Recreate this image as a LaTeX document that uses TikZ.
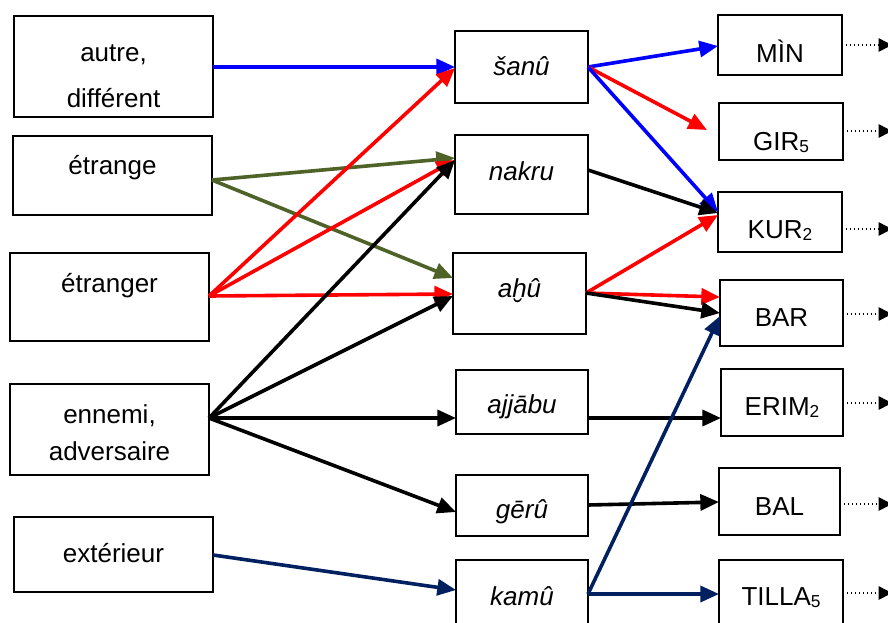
\documentclass[tikz,border=0pt]{standalone}
\usepackage{fontspec}
\setmainfont{Liberation Sans}
\usetikzlibrary{arrows.meta,fit}
\definecolor{olivec}{RGB}{79,98,40}
\definecolor{navyc}{RGB}{0,32,96}
\definecolor{bluec}{RGB}{0,0,255}
\definecolor{redc}{RGB}{255,0,0}
\newcommand{\mysub}[1]{\raisebox{-1.5pt}{\fontsize{13pt}{14pt}\selectfont #1}}
\begin{document}
\begin{tikzpicture}[x=0.75pt,y=-0.75pt,
 box/.style={draw=black, line width=1.4pt, inner sep=0pt, outer sep=0pt, rectangle},
 lbl/.style={font=\fontsize{19.5pt}{23pt}\selectfont, anchor=base, inner sep=0pt},
 itlbl/.style={lbl, font=\fontsize{19.5pt}{23pt}\selectfont\itshape},
 conn/.style={line width=2.7pt, -{Triangle[length=14pt,width=12pt]}},
 dotarrow/.style={line width=1.1pt, dash pattern=on 1.1pt off 1.9pt, -{Triangle[length=10pt,width=10pt]}}
]
\useasboundingbox (0,0) rectangle (888,622);
\clip (0,0) rectangle (888,622);
\fill[white] (0,0) rectangle (888,622);

% left boxes
\node[box, fit={(14,16) (213,117)}] (autre) {};
\node[box, fit={(13,136) (212,215)}] (etrange) {};
\node[box, fit={(10,253) (209,341)}] (etranger) {};
\node[box, fit={(10,384) (209,475)}] (ennemi) {};
\node[box, fit={(14,517) (213,592)}] (exterieur) {};

\node[lbl] (t-autre1) at (autre.center |- 0,61) {autre,};
\node[lbl] (t-autre2) at (autre.center |- 0,107) {différent};
\node[lbl] (t-etrange) at (etrange.center |- 0,174) {étrange};
\node[lbl] (t-etranger) at (etranger.center |- 0,292) {étranger};
\node[lbl] (t-ennemi1) at (ennemi.center |- 0,423) {ennemi,};
\node[lbl] (t-ennemi2) at (ennemi.center |- 0,460) {adversaire};
\node[lbl] (t-exterieur) at (exterieur.center |- 0,562) {extérieur};

% middle boxes
\node[box, fit={(455,31) (588,103)}] (sanu) {};
\node[box, fit={(455,135) (588,214)}] (nakru) {};
\node[box, fit={(453,253) (586,334)}] (ahu) {};
\node[box, fit={(456,370) (588,434)}] (ajjabu) {};
\node[box, fit={(456,475) (588,536)}] (geru) {};
\node[box, fit={(456,560) (588,630)}] (kamu) {};

\node[itlbl] (t-sanu) at (sanu.center |- 0,75) {šanû};
\node[itlbl] (t-nakru) at (nakru.center |- 0,180) {nakru};
\node[itlbl] (t-ahu) at (ahu.center |- 0,297) {aḫû};
\node[itlbl] (t-ajjabu) at (ajjabu.center |- 0,413) {ajjābu};
\node[itlbl] (t-geru) at (geru.center |- 0,518) {gērû};
\node[itlbl] (t-kamu) at (kamu.center |- 0,605) {kamû};

% right boxes
\node[box, fit={(718,15) (842,75)}] (min) {};
\node[box, fit={(719,103) (843,160)}] (gir) {};
\node[box, fit={(718,192) (842,252)}] (kur) {};
\node[box, fit={(720,280) (843,346)}] (bar) {};
\node[box, fit={(721,369) (843,436)}] (erim) {};
\node[box, fit={(719,468) (840,535)}] (bal) {};
\node[box, fit={(719,560) (843,630)}] (tilla) {};

\node[lbl] (t-min) at (min.center |- 0,62) {MÌN};
\node[lbl] (t-gir) at (gir.center |- 0,150) {GIR\mysub{5}};
\node[lbl] (t-kur) at (kur.center |- 0,238) {KUR\mysub{2}};
\node[lbl] (t-bar) at (bar.center |- 0,326) {BAR};
\node[lbl] (t-erim) at (erim.center |- 0,415) {ERIM\mysub{2}};
\node[lbl] (t-bal) at (bal.center |- 0,515) {BAL};
\node[lbl] (t-tilla) at (tilla.center |- 0,605) {TILLA\mysub{5}};

\coordinate (girin) at (707,130);
\coordinate (edge) at (892,0);

% left to middle
\draw[conn, bluec] (autre.east |- 0,67) -- (sanu.west |- 0,67);
\draw[conn, olivec] (etrange.east |- 0,180) -- (nakru.west |- 0,158);
\draw[conn, olivec] (etrange.east |- 0,180) -- (ahu.west |- 0,278);
\draw[conn, redc] (etranger.east |- 0,296) -- (sanu.west |- 0,68);
\draw[conn, redc] (etranger.east |- 0,296) -- (nakru.west |- 0,160);
\draw[conn, redc] (etranger.east |- 0,296) -- (ahu.west |- 0,294);
\draw[conn, black] (ennemi.east |- 0,418) -- (nakru.west |- 0,160);
\draw[conn, black] (ennemi.east |- 0,418) -- (ahu.west |- 0,296);
\draw[conn, black] (ennemi.east |- 0,418) -- (ajjabu.west |- 0,418);
\draw[conn, black] (ennemi.east |- 0,418) -- (geru.west |- 0,512);
\draw[conn, navyc] (exterieur.east |- 0,555) -- (kamu.west |- 0,590);

% middle to right
\draw[conn, bluec] (sanu.east |- 0,67) -- (min.west |- 0,46);
\draw[conn, redc] (sanu.east |- 0,67) -- (girin);
\draw[conn, bluec] (sanu.east |- 0,67) -- (kur.west |- 0,212);
\draw[conn, black] (nakru.east |- 0,170) -- (kur.west |- 0,213);
\draw[conn, redc] (ahu.east |- 0,293) -- (kur.west |- 0,215);
\draw[conn, redc] (ahu.east |- 0,293) -- (bar.west |- 0,297);
\draw[conn, black] (ahu.east |- 0,293) -- (bar.west |- 0,313);
\draw[conn, black] (ajjabu.east |- 0,418) -- (erim.west |- 0,418);
\draw[conn, black] (geru.east |- 0,505) -- (bal.west |- 0,502);
\draw[conn, navyc] (kamu.east |- 0,594) -- (bar.west |- 0,316);
\draw[conn, navyc] (kamu.east |- 0,594) -- (tilla.west |- 0,594);

% dotted outputs
\draw[dotarrow] (min.east |- 0,45) -- (edge |- 0,45);
\draw[dotarrow] (gir.east |- 0,131) -- (edge |- 0,131);
\draw[dotarrow] (kur.east |- 0,229) -- (edge |- 0,229);
\draw[dotarrow] (bar.east |- 0,314) -- (edge |- 0,314);
\draw[dotarrow] (erim.east |- 0,403) -- (edge |- 0,403);
\draw[dotarrow] (bal.east |- 0,504) -- (edge |- 0,504);
\draw[dotarrow] (tilla.east |- 0,593) -- (edge |- 0,593);
\end{tikzpicture}
\end{document}
